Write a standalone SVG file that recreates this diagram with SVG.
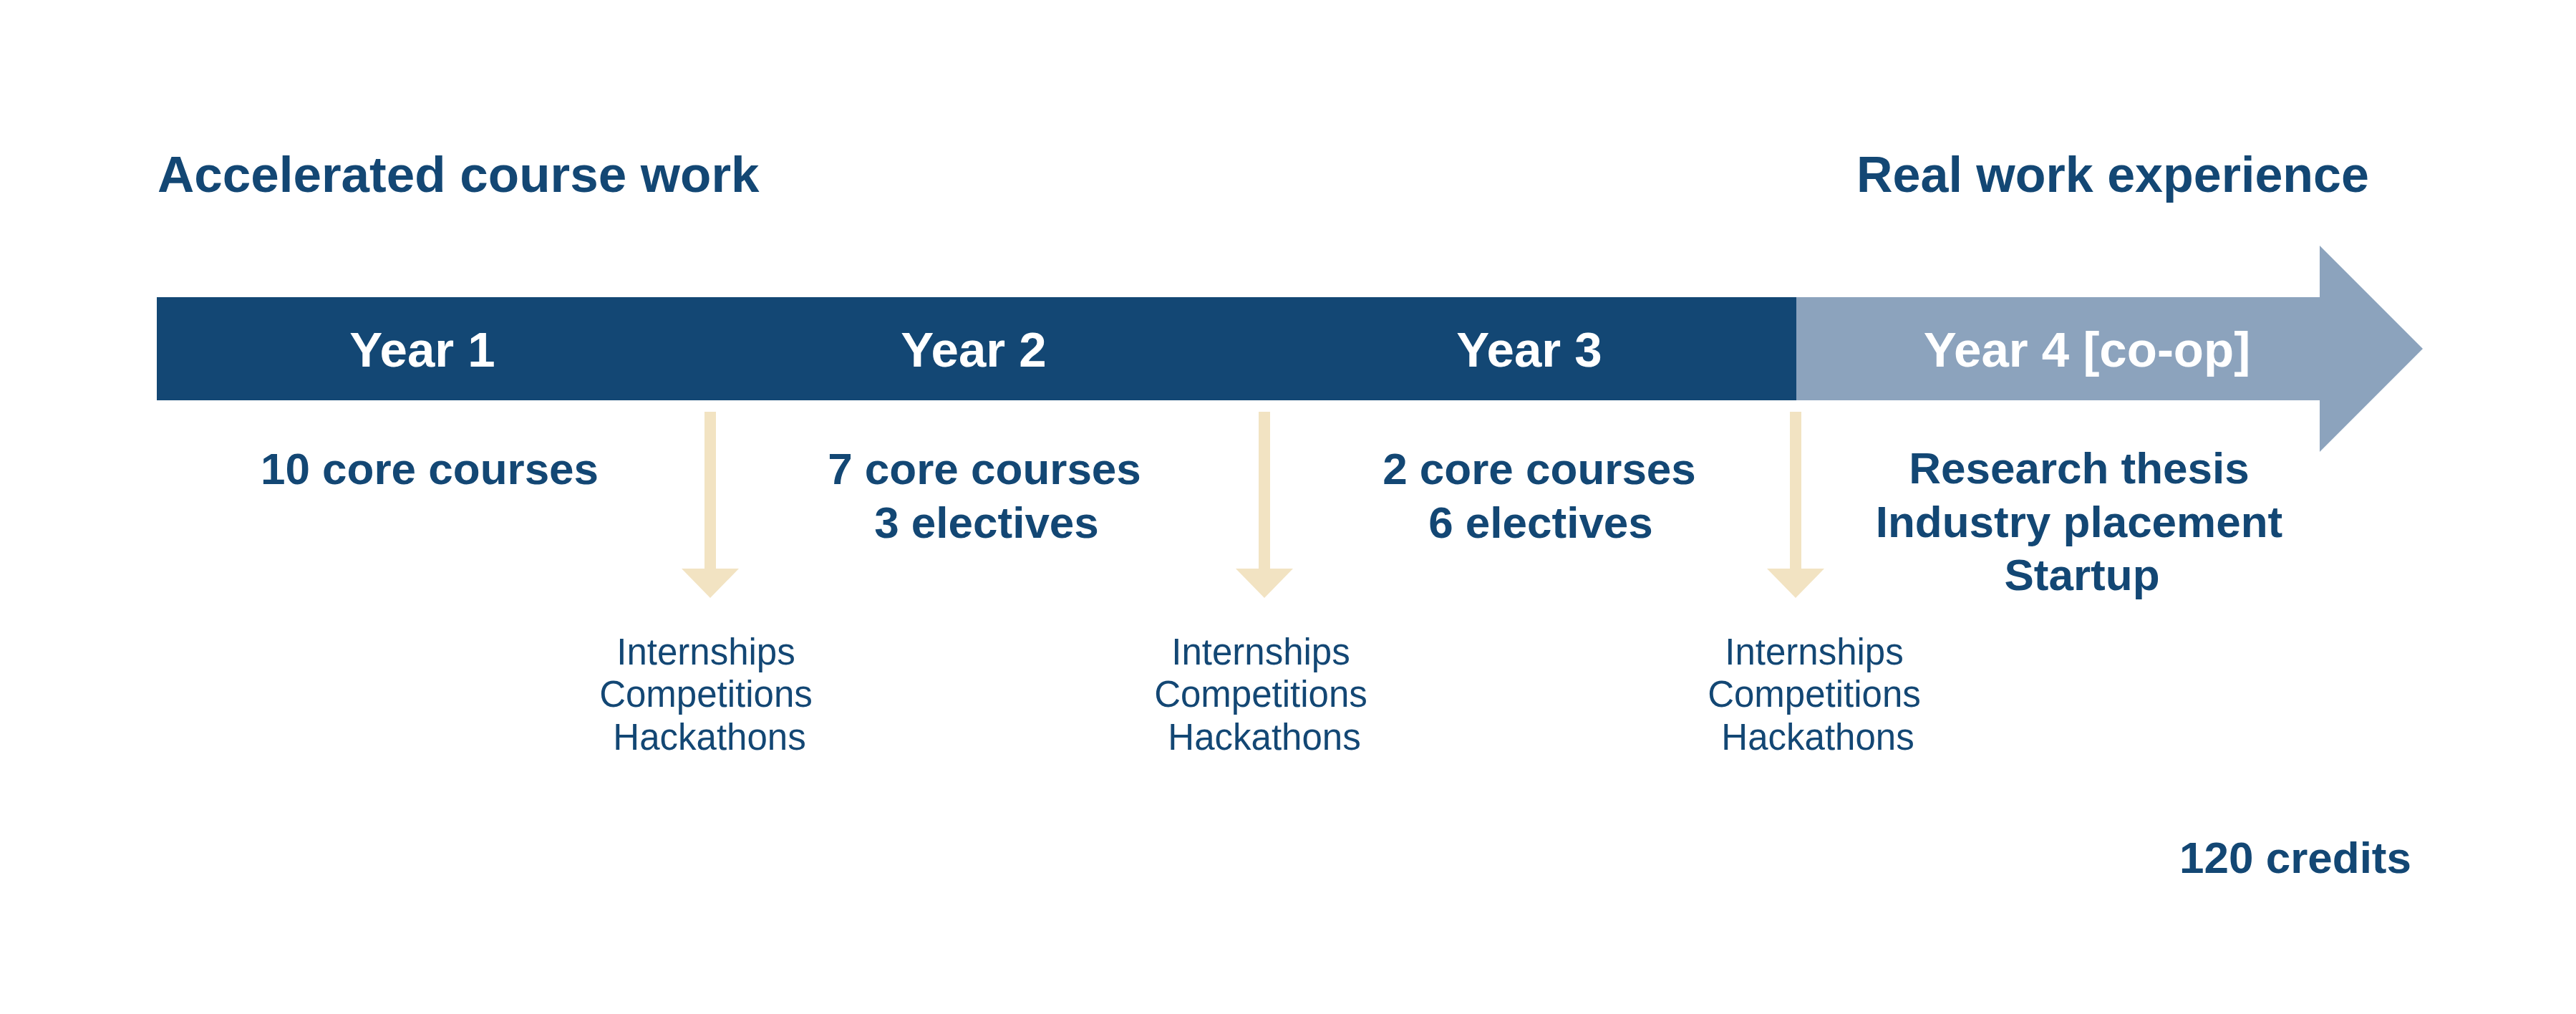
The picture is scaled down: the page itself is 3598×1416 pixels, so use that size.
<svg xmlns="http://www.w3.org/2000/svg" width="3598" height="1416" viewBox="0 0 3598 1416">
<style>
text{font-family:"Liberation Sans",Arial,sans-serif;fill:#134774}
.h{font-size:71px;font-weight:bold}
.yr{font-size:69px;font-weight:bold;fill:#ffffff;text-anchor:middle}
.c{font-size:62px;font-weight:bold;text-anchor:middle}
.s{font-size:51px;text-anchor:middle}
.ar{fill:#F2E3C2}
</style>
<rect width="3598" height="1416" fill="#ffffff"/>
<g id="headers">
<text class="h" x="220" y="268">Accelerated course work</text>
<text class="h" x="2593" y="268" style="font-size:70px">Real work experience</text>
</g>
<g id="timeline">
<polygon points="2509,415 3240,415 3240,343 3384,487 3240,631 3240,559 2509,559" fill="#8CA3BD"/>
<rect x="219" y="415" width="2290" height="144" fill="#134774"/>
</g>
<g id="year1">
<text class="yr" x="590" y="512">Year 1</text>
<text class="c" x="600" y="676">10 core courses</text>
</g>
<g id="year2">
<text class="yr" x="1360" y="512">Year 2</text>
<text class="c" x="1375" y="676">7 core courses</text>
<text class="c" x="1378" y="751">3 electives</text>
</g>
<g id="year3">
<text class="yr" x="2136" y="512">Year 3</text>
<text class="c" x="2150" y="676">2 core courses</text>
<text class="c" x="2152" y="751">6 electives</text>
</g>
<g id="year4">
<text class="yr" x="2915" y="512">Year 4 [co-op]</text>
<text class="c" x="2904" y="675">Research thesis</text>
<text class="c" x="2904" y="750">Industry placement</text>
<text class="c" x="2908" y="824">Startup</text>
</g>
<g id="connectors">
<polygon class="ar" points="984,575 1000,575 1000,794 1032,794 992,835 952,794 984,794"/>
<polygon class="ar" points="1758,575 1774,575 1774,794 1806,794 1766,835 1726,794 1758,794"/>
<polygon class="ar" points="2500,575 2516,575 2516,794 2548,794 2508,835 2468,794 2500,794"/>
</g>
<g id="extras1">
<text class="s" x="986" y="928">Internships</text>
<text class="s" x="986" y="987">Competitions</text>
<text class="s" x="991" y="1047">Hackathons</text>
</g>
<g id="extras2">
<text class="s" x="1761" y="928">Internships</text>
<text class="s" x="1761" y="987">Competitions</text>
<text class="s" x="1766" y="1047">Hackathons</text>
</g>
<g id="extras3">
<text class="s" x="2534" y="928">Internships</text>
<text class="s" x="2534" y="987">Competitions</text>
<text class="s" x="2539" y="1047">Hackathons</text>
</g>
<g id="credits">
<text class="c" x="3206" y="1219">120 credits</text>
</g>
</svg>
